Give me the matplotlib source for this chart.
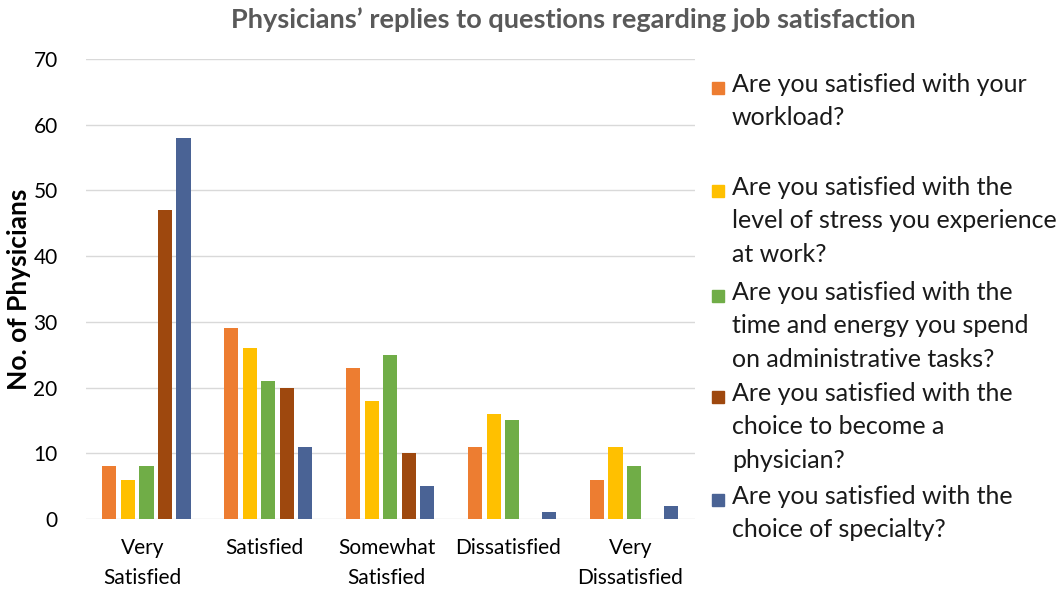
import matplotlib
matplotlib.use("Agg")
import matplotlib.pyplot as plt
import numpy as np
from matplotlib.patches import Rectangle

categories = ["Very\nSatisfied", "Satisfied", "Somewhat\nSatisfied", "Dissatisfied", "Very\nDissatisfied"]
series_labels = [
    "Are you satisfied with your\nworkload?",
    "Are you satisfied with the\nlevel of stress you experience\nat work?",
    "Are you satisfied with the\ntime and energy you spend\non administrative tasks?",
    "Are you satisfied with the\nchoice to become a\nphysician?",
    "Are you satisfied with the\nchoice of specialty?",
]
workload = [8, 29, 23, 11, 6]
stress = [6, 26, 18, 16, 11]
admin = [8, 21, 25, 15, 8]
physician = [47, 20, 10, 0, 0]
specialty = [58, 11, 5, 1, 2]
series = [workload, stress, admin, physician, specialty]
colors = ["#ED7D31", "#FFC000", "#70AD47", "#9E480E", "#4A6395"]
yticks = [0, 10, 20, 30, 40, 50, 60, 70]

plt.rcParams['font.family'] = ['Lato', 'DejaVu Sans']

W, H = 1064, 591
fig = plt.figure(figsize=(W / 100, H / 100), dpi=100)
ax = fig.add_axes([85.5 / W, (H - 519) / H, (695 - 85.5) / W, (519 - 59) / H])

x = np.arange(len(categories))
pitch = 0.152
width = 0.116
for i, (vals, c) in enumerate(zip(series, colors)):
    ax.bar(x + (i - 2) * pitch, vals, width=width, color=c, zorder=3)

ax.set_xlim(-0.5, len(categories) - 0.5)
ax.set_ylim(0, 70)
ax.set_yticks(yticks)
ax.set_yticklabels([str(v) for v in yticks], fontsize=15)
ax.set_xticks(x - 0.03)
ax.set_xticklabels(categories, fontsize=15, linespacing=1.6)
ax.tick_params(axis='both', length=0)
ax.tick_params(axis='y', pad=20)
ax.tick_params(axis='x', pad=14)
ax.grid(axis='y', color='#D9D9D9', linewidth=1, zorder=0)
for s in ax.spines.values():
    s.set_visible(False)

ax.set_ylabel("No. of Physicians", fontsize=19, fontweight='bold')
ax.yaxis.set_label_coords(-54 / (695 - 85.5), 0.5)

fig.text(573 / W, 1 - 20 / H, "Physicians\u2019 replies to questions regarding job satisfaction",
         ha='center', va='center', fontsize=19.5, fontweight='bold', color='#595959')

# legend
legend_tops = [88, 191, 296, 397, 500]
for lab, c, ty in zip(series_labels, colors, legend_tops):
    fig.patches.append(Rectangle((712 / W, 1 - (ty + 6) / H), 12 / W, 12 / H,
                                 transform=fig.transFigure, color=c))
    fig.text(732 / W, 1 - (ty - 15) / H, lab, ha='left', va='top', fontsize=18,
             linespacing=1.55, color='#1a1a1a')

fig.savefig("out.png", dpi=100)
